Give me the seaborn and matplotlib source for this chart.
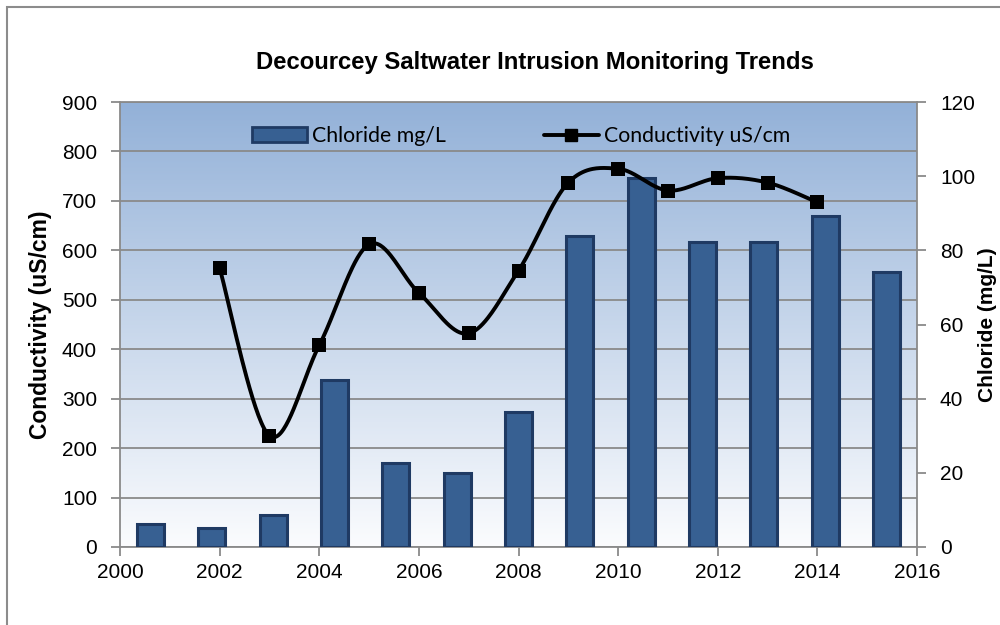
import numpy as np
import pandas as pd
import matplotlib
matplotlib.use('Agg')
import matplotlib.pyplot as plt
import seaborn as sns
from matplotlib.colors import LinearSegmentedColormap
from matplotlib.patches import Patch, Rectangle
from matplotlib.lines import Line2D

# chloride samples (bars, right axis, mg/L) - evenly spaced category axis
chloride_samples = list(range(1, 14))
chloride = [6.2, 5.2, 8.6, 45.0, 22.7, 19.9, 36.3, 84.0, 99.6, 82.2, 82.2, 89.3, 74.2]

# conductivity (line, left axis, uS/cm)
cond_years = [2002, 2003, 2004, 2005, 2006, 2007, 2008, 2009, 2010, 2011, 2012, 2013, 2014]
conductivity = [564, 225, 408, 612, 514, 432, 559, 737, 765, 721, 746, 737, 697]

left_ticks = list(range(0, 901, 100))
right_ticks = list(range(0, 121, 20))
year_ticks = list(range(2000, 2017, 2))

BAR_FACE = '#376092'
BAR_EDGE = '#1f3a63'
GRID = '#8a8a8a'


def smooth_curve(x, y, n=40):
    # excel-style smoothed line (catmull-rom bezier through the points)
    pts = np.column_stack([x, y]).astype(float)
    segs = []
    t = np.linspace(0, 1, n)[:, None]
    for i in range(len(pts) - 1):
        p0 = pts[i - 1] if i > 0 else pts[i]
        p1, p2 = pts[i], pts[i + 1]
        p3 = pts[i + 2] if i + 2 < len(pts) else pts[i + 1]
        c1 = p1 + (p2 - p0) / 6
        c2 = p2 - (p3 - p1) / 6
        seg = (1 - t) ** 3 * p1 + 3 * (1 - t) ** 2 * t * c1 + 3 * (1 - t) * t ** 2 * c2 + t ** 3 * p2
        segs.append(seg)
    out = np.vstack(segs)
    return out[:, 0], out[:, 1]


sns.set_theme(style='white')
plt.rcParams['font.family'] = ['Liberation Sans', 'DejaVu Sans']
plt.rcParams['text.color'] = 'black'
plt.rcParams['axes.labelcolor'] = 'black'

fig = plt.figure(figsize=(10, 6.25), dpi=100)
rect = [0.120, 0.1248, 0.797, 0.712]

# background with gradient and gridlines, carries left/bottom ticks
ax_bg = fig.add_axes(rect, zorder=0)
cmap = LinearSegmentedColormap.from_list('bg', ['#fbfcfe', '#93b1d8'])
grad = np.linspace(0, 1, 256).reshape(-1, 1)
ax_bg.imshow(grad, extent=[2000, 2016, 0, 900], origin='lower', aspect='auto', cmap=cmap, zorder=0)
ax_bg.set_xlim(2000, 2016)
ax_bg.set_ylim(0, 900)
ax_bg.set_yticks(left_ticks)
ax_bg.set_xticks(year_ticks)
ax_bg.yaxis.grid(True, color=GRID, linewidth=1.3)
ax_bg.set_axisbelow(False)
for ln in ax_bg.get_ygridlines():
    ln.set_zorder(1)
for s in ['left', 'bottom', 'top', 'right']:
    ax_bg.spines[s].set_color(GRID)
    ax_bg.spines[s].set_linewidth(1.3)
ax_bg.tick_params(axis='y', direction='out', length=6.5, width=1.3, color=GRID, pad=10,
                  labelsize=15, labelcolor='black')
ax_bg.tick_params(axis='x', direction='out', length=6.5, width=1.3, color=GRID, pad=5,
                  labelsize=15, labelcolor='black')
ax_bg.tick_params(left=True, bottom=True)
ax_bg.set_ylabel('Conductivity (uS/cm)', fontsize=16.5, fontweight='bold')
ax_bg.yaxis.set_label_coords(-0.0853, 0.5)

# bars on a secondary category axis, right y axis
ax_bar = fig.add_axes(rect, zorder=1)
ax_bar.patch.set_visible(False)
df_bar = pd.DataFrame({'sample': chloride_samples, 'chloride': chloride})
sns.barplot(data=df_bar, x='sample', y='chloride', ax=ax_bar, color=BAR_FACE,
            saturation=1, width=0.44, edgecolor=BAR_EDGE, linewidth=2.2)
ax_bar.set_ylim(0, 120)
ax_bar.set_yticks(right_ticks)
ax_bar.yaxis.tick_right()
ax_bar.yaxis.set_label_position('right')
ax_bar.set_xticks([])
ax_bar.set_xlabel('')
ax_bar.set_ylabel('Chloride (mg/L)', fontsize=15, fontweight='bold')
ax_bar.yaxis.set_label_coords(1.077, 0.5)
for s in ax_bar.spines.values():
    s.set_visible(False)
ax_bar.tick_params(axis='y', right=True, direction='out', length=6.5, width=1.3, color=GRID,
                   pad=10, labelsize=15, labelcolor='black')

# conductivity line on top
ax_line = fig.add_axes(rect, zorder=2)
ax_line.patch.set_visible(False)
sx, sy = smooth_curve(cond_years, conductivity)
ax_line.plot(sx, sy, color='black', linewidth=2.8, solid_capstyle='round')
df_line = pd.DataFrame({'year': cond_years, 'cond': conductivity})
sns.scatterplot(data=df_line, x='year', y='cond', ax=ax_line, marker='s', s=115,
                color='black', edgecolor='black', linewidth=0, zorder=3)
ax_line.set_xlim(2000, 2016)
ax_line.set_ylim(0, 900)
ax_line.set_axis_off()

handles = [Patch(facecolor=BAR_FACE, edgecolor=BAR_EDGE, linewidth=2),
           Line2D([0], [0], color='black', linewidth=2.8, marker='s', markersize=9)]
leg = ax_line.legend(handles, ['Chloride mg/L', 'Conductivity uS/cm'], ncol=2, loc='center',
                     bbox_to_anchor=(0.521, 1 - 136 / 625), bbox_transform=fig.transFigure,
                     frameon=False, handlelength=2.6, handletextpad=0.25, columnspacing=4.6,
                     prop={'family': ['Lato', 'DejaVu Sans'], 'size': 15.3})

fig.text(0.535, 1 - 62 / 625, 'Decourcey Saltwater Intrusion Monitoring Trends',
         ha='center', va='center', fontsize=17.2, fontweight='bold')

# outer chart frame (cropped at right and bottom)
fig.patches.append(Rectangle((0.007, -0.05), 1.1, 1.0388, transform=fig.transFigure,
                             fill=False, edgecolor='#8c8c8c', linewidth=1.5))

fig.savefig('out.png', dpi=100)
